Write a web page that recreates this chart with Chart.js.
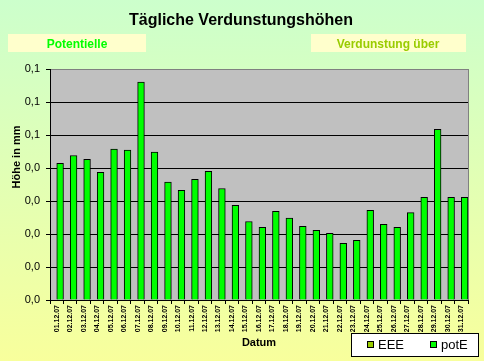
<!DOCTYPE html>
<html>
<head>
<meta charset="utf-8">
<script src="https://cdn.jsdelivr.net/npm/chart.js@4"></script>
<style>
  html, body { margin: 0; padding: 0; background: #ccffcc; }
  #wrap { width: 484px; height: 361px; position: relative; }
</style>
</head>
<body>
<div id="wrap"><canvas id="evapChart" width="484" height="361"></canvas></div>
<script>
// Chart data
const days = [
    '01.12.07', '02.12.07', '03.12.07', '04.12.07', '05.12.07', '06.12.07', '07.12.07', '08.12.07',
    '09.12.07', '10.12.07', '11.12.07', '12.12.07', '13.12.07', '14.12.07', '15.12.07', '16.12.07',
    '17.12.07', '18.12.07', '19.12.07', '20.12.07', '21.12.07', '22.12.07', '23.12.07', '24.12.07',
    '25.12.07', '26.12.07', '27.12.07', '28.12.07', '29.12.07', '30.12.07', '31.12.07'
];
const eeeValues = days.map(() => null);
const potEValues = [
    0.0414, 0.0438, 0.0426, 0.0387, 0.0457, 0.0454, 0.0660, 0.0448,
    0.0357, 0.0332, 0.0366, 0.0390, 0.0338, 0.0287, 0.0238, 0.0220,
    0.0269, 0.0248, 0.0223, 0.0211, 0.0202, 0.0172, 0.0181, 0.0272,
    0.0229, 0.0220, 0.0265, 0.0311, 0.0517, 0.0311, 0.0311
];
const yTickLabels = ['0,0', '0,0', '0,0', '0,0', '0,0', '0,1', '0,1', '0,1'];

const colors = {
    eee: '#99cc00',
    potE: '#00ff00',
    plot: '#c0c0c0'
};

// Background, plot area, headings and legend box
const decorPlugin = {
    id: 'decor',
    beforeDraw(chart) {
        const { ctx, chartArea: a, width, height } = chart;
        ctx.save();
        const g = ctx.createLinearGradient(0, 0, 0, height);
        g.addColorStop(0, '#ccffcc');
        g.addColorStop(1, '#f8ff9c');
        ctx.fillStyle = g;
        ctx.fillRect(0, 0, width, height);

        ctx.fillStyle = colors.plot;
        ctx.fillRect(a.left, a.top, a.right - a.left, a.bottom - a.top);
        ctx.strokeStyle = '#808080';
        ctx.lineWidth = 1;
        ctx.strokeRect(a.left + 0.5, a.top + 0.5, a.right - a.left, a.bottom - a.top);

        ctx.fillStyle = '#000';
        ctx.textAlign = 'center';
        ctx.textBaseline = 'alphabetic';
        ctx.font = 'bold 16px "Liberation Sans", Arial, sans-serif';
        ctx.fillText('Tägliche Verdunstungshöhen', 241, 25);

        ctx.fillStyle = '#ffffcc';
        ctx.fillRect(8, 34, 138, 18);
        ctx.fillRect(311, 34, 155, 18);
        ctx.font = 'bold 12px "Liberation Sans", Arial, sans-serif';
        ctx.fillStyle = colors.potE;
        ctx.fillText('Potentielle', 77, 48);
        ctx.fillStyle = colors.eee;
        ctx.fillText('Verdunstung über', 388, 48);
        ctx.restore();
    },
    afterDraw(chart) {
        const { ctx, chartArea: a } = chart;
        ctx.save();
        ctx.fillStyle = '#000';
        ctx.font = 'bold 11px "Liberation Sans", Arial, sans-serif';
        ctx.textAlign = 'center';
        ctx.fillText('Datum', (a.left + a.right) / 2, 346);

        ctx.translate(20, 157);
        ctx.rotate(-Math.PI / 2);
        ctx.fillText('Höhe in mm', 0, 0);
        ctx.restore();

        // legend
        ctx.save();
        ctx.fillStyle = '#fff';
        ctx.fillRect(351, 333, 127, 23);
        ctx.strokeStyle = '#000';
        ctx.lineWidth = 1;
        ctx.strokeRect(351.5, 333.5, 127, 23);
        ctx.font = '13px "Liberation Sans", Arial, sans-serif';
        ctx.textBaseline = 'middle';
        const items = chart.data.datasets.map(ds => [ds.label, ds.backgroundColor]);
        const xs = [367, 430];
        items.forEach(([label, color], i) => {
            ctx.fillStyle = color;
            ctx.fillRect(xs[i], 341, 7, 7);
            ctx.strokeRect(xs[i] + 0.5, 341.5, 6, 6);
            ctx.fillStyle = '#000';
            ctx.fillText(label, xs[i] + 11, 345.5);
        });
        ctx.restore();
    }
};

const initEvapChart = () => {
    const ctx = document.getElementById('evapChart').getContext('2d');
    const data = {
        labels: days,
        datasets: [
            {
                label: 'EEE',
                data: eeeValues,
                backgroundColor: colors.eee,
                borderColor: '#000',
                borderWidth: 1,
                categoryPercentage: 1.0,
                barPercentage: 1.0
            },
            {
                label: 'potE',
                data: potEValues,
                backgroundColor: colors.potE,
                borderColor: '#000',
                borderWidth: 1,
                categoryPercentage: 1.0,
                barPercentage: 1.0
            }
        ]
    };

    const options = {
        responsive: false,
        animation: false,
        layout: { padding: { left: 0, top: 69, right: 16, bottom: 0 } },
        plugins: {
            legend: { display: false },
            title: { display: false },
            tooltip: { enabled: false }
        },
        scales: {
            x: {
                afterFit: (scale) => { scale.height = 61; },
                grid: {
                    offset: true,
                    drawOnChartArea: false,
                    color: '#000',
                    tickLength: 4
                },
                border: { color: '#000' },
                ticks: {
                    color: '#000',
                    autoSkip: false,
                    maxRotation: 90,
                    minRotation: 90,
                    padding: 1,
                    font: { size: 7, weight: 'bold', family: '"Liberation Sans", Arial, sans-serif' }
                }
            },
            y: {
                min: 0,
                max: 0.07,
                afterFit: (scale) => { scale.width = 50; },
                border: { color: '#000' },
                grid: {
                    color: (c) => (c.index === 7 ? 'rgba(0,0,0,0)' : '#000'),
                    tickLength: 4,
                    tickColor: '#000'
                },
                ticks: {
                    stepSize: 0.01,
                    color: '#000',
                    padding: 6,
                    font: { size: 11, family: '"Liberation Sans", Arial, sans-serif' },
                    callback: (value, index) => yTickLabels[index]
                }
            }
        }
    };

    new Chart(ctx, {
        type: 'bar',
        data,
        options,
        plugins: [decorPlugin]
    });
};

document.addEventListener('DOMContentLoaded', initEvapChart);
</script>
</body>
</html>
